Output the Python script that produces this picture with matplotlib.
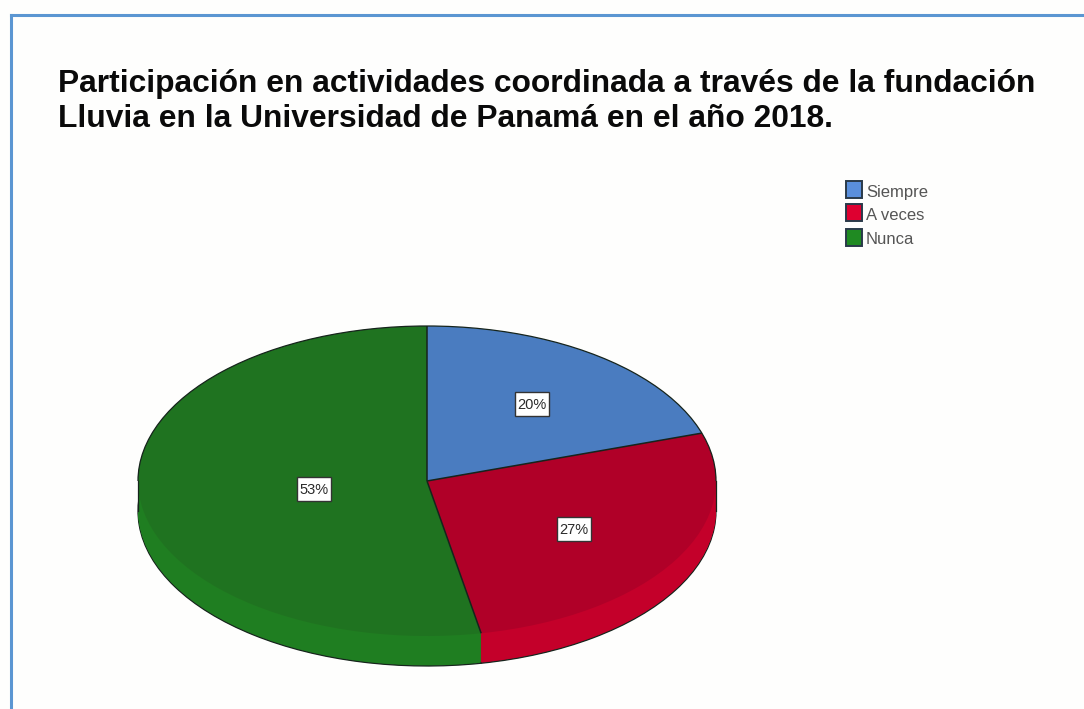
import numpy as np
import matplotlib
matplotlib.use("Agg")
import matplotlib.pyplot as plt
from matplotlib.patches import Rectangle, Arc
from matplotlib.lines import Line2D

W, H = 1084, 709
categories = ["Siempre", "A veces", "Nunca"]
values = [20, 27, 53]
labels = ["20%", "27%", "53%"]
top_colors = ["#4A7CC0", "#B00028", "#1F7320"]
side_colors = ["#3F6CA8", "#C4002A", "#1F7E21"]
legend_colors = ["#5A8FDC", "#DE0030", "#1F8A22"]
title_lines = ["Participación en actividades coordinada a través de la fundación",
               "Lluvia en la Universidad de Panamá en el año 2018."]

cx, cy, rx, ry, depth = 427, 481, 289, 155, 30
edge = "#16241c"

fig = plt.figure(figsize=(W / 100, H / 100), dpi=100, facecolor="#fefefd")
ax = fig.add_axes([0, 0, 1, 1])


def draw(center_d, colors, lw=0.0):
    w, _ = ax.pie(values, colors=colors, startangle=90, counterclock=False,
                  center=(0, -center_d / ry), radius=1, normalize=True)
    for p in w:
        p.set_linewidth(lw)
        p.set_edgecolor(edge)
    return w


# extruded rim: deepest layer keeps a thin silhouette line
draw(depth, side_colors, lw=0.9)
for d in range(depth - 1, 0, -1):
    draw(d, side_colors)
top = draw(0, top_colors)

# radial separators taken from the wedge angles, upper arc outline
for p in top:
    a = np.deg2rad(p.theta1)
    ax.plot([0, np.cos(a)], [0, np.sin(a)], color=edge, lw=1.1, solid_capstyle="butt", zorder=5)
ax.add_patch(Arc((0, 0), 2, 2, theta1=0, theta2=180, color=edge, lw=0.9, zorder=5))
for sx in (-1, 1):
    ax.plot([sx, sx], [0, -depth / ry], color=edge, lw=0.9, zorder=5)

ax.set_aspect("auto")
ax.set_xlim(-cx / rx, (W - cx) / rx)
ax.set_ylim((cy - H) / ry, cy / ry)
ax.axis("off")

# value labels
pos = [(532, 404), (574, 529), (314, 489)]
for (px, py), lab in zip(pos, labels):
    fig.add_artist(Rectangle(((px - 17) / W, 1 - (py + 12) / H), 34 / W, 24 / H,
                             transform=fig.transFigure, fc="white", ec="#333333", lw=1.0))
    fig.text(px / W, 1 - (py + 1) / H, lab, ha="center", va="center", fontsize=10.5,
             family="Liberation Sans", color="#2a2a2a")

# title
for y, line in zip((84, 119), title_lines):
    fig.text(58 / W, 1 - y / H, line, ha="left", va="center", fontsize=22.9,
             family="Liberation Sans", weight="bold", color="#0a0a0a")

# legend
for sy, ty, name, col in zip((189, 212.5, 237.5), (193, 216, 240), categories, legend_colors):
    fig.add_artist(Rectangle((845.5 / W, 1 - (sy + 8.5) / H), 16 / W, 17 / H,
                             transform=fig.transFigure, fc=col, ec="#2a3a4a", lw=1.4))
    fig.text(866 / W, 1 - ty / H, name, ha="left", va="center", fontsize=12,
             family="Liberation Sans", color="#555555")

# outer border
bc = "#5B96D2"
fig.add_artist(Line2D([11 / W, 11 / W], [0, 1 - 15 / H], color=bc, lw=2.2, solid_capstyle="projecting"))
fig.add_artist(Line2D([11 / W, 1], [1 - 15 / H, 1 - 15 / H], color=bc, lw=2.2, solid_capstyle="projecting"))

fig.savefig("out.png", dpi=100, facecolor=fig.get_facecolor())
